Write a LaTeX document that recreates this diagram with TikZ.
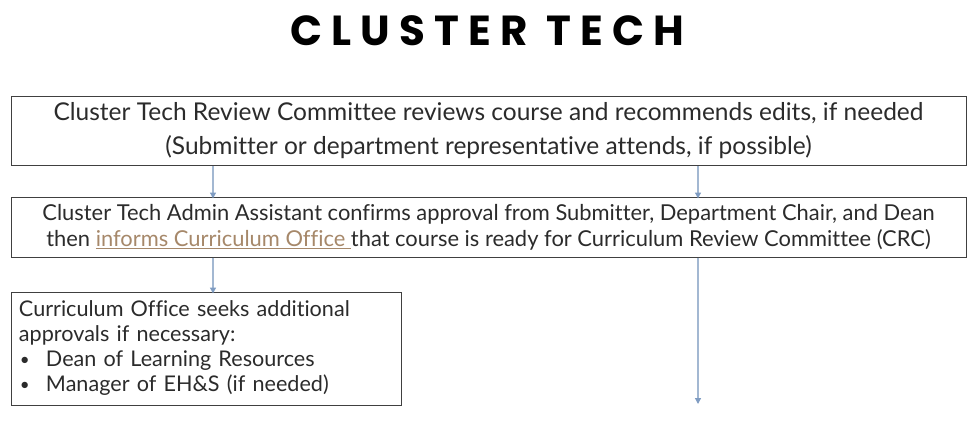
\documentclass[tikz,border=0pt]{standalone}
\usepackage{fontspec}
\setmainfont{Lato}[Ligatures={NoCommon}]
\newfontfamily\titlefont[LetterSpace=22]{Poppins}
\usepackage{tikz}
\usetikzlibrary{arrows.meta}
\usetikzlibrary{positioning}
\definecolor{boxline}{HTML}{404040}
\definecolor{bodytext}{HTML}{2B2B2B}
\definecolor{flowline}{HTML}{A3B8D2}
\definecolor{flowtip}{HTML}{7F9CC2}
\definecolor{linktext}{HTML}{A6886A}
\tikzset{stepbox/.style={draw=boxline,line width=1pt,text=bodytext,inner sep=0pt}}
\tikzset{flow/.style={draw=flowline,line width=1.3pt,-{Triangle[length=6pt,width=6pt,color=flowtip]}}}
\newcommand{\itemdot}{\makebox[27pt][l]{\hspace{1pt}\raisebox{1pt}{\fontsize{17}{17}\selectfont\textbullet}}}

\begin{document}
\begin{tikzpicture}[x=1pt,y=-1pt]
\useasboundingbox (0,0) rectangle (975,426);
\node[font={\titlefont\bfseries\fontsize{42}{42}\selectfont}] (title) at (487,31) {CLUSTER TECH};

\node[stepbox,minimum width=955pt,minimum height=69.5pt,align=center,
  font={\fontsize{24.5}{34}\selectfont}] (review) at (488.5,130.75)
  {\rule{0pt}{8pt}Cluster Tech Review Committee reviews course and recommends edits, if needed\\
   (Submitter or department representative attends, if possible)};
\node[stepbox,minimum width=955pt,minimum height=60pt,align=center,
  font={\fontsize{21.9}{26}\selectfont}] (admin) at (488.5,227)
  {Cluster Tech Admin Assistant confirms approval from Submitter, Department Chair, and Dean\\
   then {\color{linktext}\underline{informs Curriculum Office\ }}that course is ready for Curriculum Review Committee (CRC)};
\node[stepbox,minimum width=390pt,minimum height=113pt,text width=374pt,align=left,
  font={\fontsize{21.6}{25}\selectfont}] (seek) at (206,348.5)
  {Curriculum Office seeks additional\\
   approvals if necessary:\\
   \itemdot Dean of Learning Resources\\
   \itemdot Manager of EH\&S (if needed)};

\coordinate (left) at (213,0);
\coordinate (right) at (698,0);
\coordinate (crc) at (698,404);
\foreach \c in {left,right} {
	\draw[flow] (review.south -| \c) -- ([yshift=-2pt]admin.north -| \c);
}
\draw[flow] (admin.south -| left) -- ([yshift=-2pt]seek.north -| left);
\draw[flow] (admin.south -| right) -- (crc);
\end{tikzpicture}
\end{document}
